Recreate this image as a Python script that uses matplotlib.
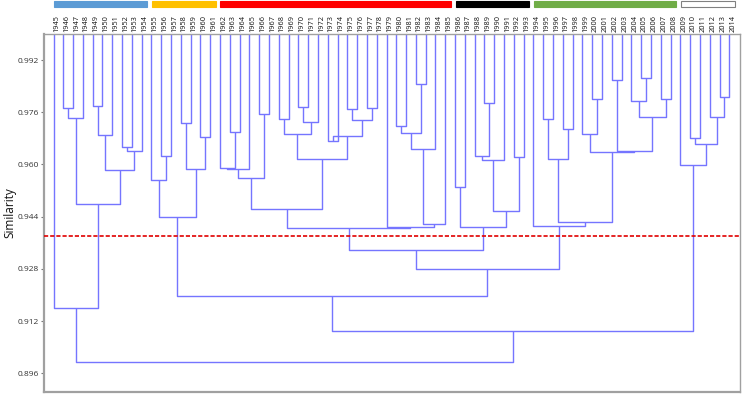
import matplotlib
matplotlib.use("Agg")
import matplotlib.pyplot as plt
import matplotlib.transforms as mtransforms
from matplotlib.patches import Rectangle

plt.rcParams['font.family'] = ['Open Sans', 'DejaVu Sans']

# leaves of the dendrogram, drawn in this order
years = list(range(1945, 2015))

# linkage rows: a value >= 1945 is a leaf (year), a smaller value is an earlier row
link_a = [1946, 0, 1949, 2, 1952, 4, 3, 1, 1945,
          1956, 1955, 1958, 1960, 11, 10,
          1963, 1962, 16, 1966, 17, 1968, 1970, 21, 20, 1973, 1975, 1977, 25, 24, 23, 19,
          1980, 1982, 31, 33, 34, 1979, 30,
          1986, 1989, 1988, 40, 1992, 41, 38, 37,
          1995, 1997, 46, 2000, 1999, 2002, 2005, 2004, 2007, 53, 51, 50, 48, 1994,
          45, 14,
          2010, 2013, 2012, 62, 2009, 61, 8]
link_b = [1947, 1948, 1950, 1951, 1953, 1954, 5, 6, 7,
          1957, 9, 1959, 1961, 12, 13,
          1964, 15, 1965, 1967, 18, 1969, 1971, 1972, 22, 1974, 1976, 1978, 26, 27, 28, 29,
          1981, 1983, 32, 1984, 1985, 35, 36,
          1987, 1990, 39, 1991, 1993, 42, 43, 44,
          1996, 1998, 47, 2001, 49, 2003, 2006, 52, 2008, 54, 55, 56, 57, 58,
          59, 60,
          2011, 2014, 63, 64, 65, 66, 67]
link_h = [0.9773, 0.9741, 0.9778, 0.9689, 0.9654, 0.9641, 0.9583, 0.9479, 0.9160,
          0.9627, 0.9552, 0.9728, 0.9685, 0.9586, 0.9438,
          0.9699, 0.9588, 0.9587, 0.9756, 0.9559, 0.9739, 0.9775, 0.9731, 0.9693,
          0.9673, 0.9770, 0.9774, 0.9736, 0.9687, 0.9618, 0.9463,
          0.9719, 0.9846, 0.9697, 0.9646, 0.9418, 0.9407, 0.9406,
          0.9530, 0.9787, 0.9627, 0.9614, 0.9622, 0.9457, 0.9407, 0.9338,
          0.9738, 0.9708, 0.9616, 0.9801, 0.9693, 0.9859, 0.9866, 0.9794, 0.9801,
          0.9744, 0.9640, 0.9639, 0.9425, 0.9410,
          0.9280, 0.9198,
          0.9680, 0.9808, 0.9746, 0.9663, 0.9598, 0.9090, 0.8996]

leaf_sim = 1.0
cut_level = 0.9382

# period bars above the labels
group_first = [1945, 1955, 1962, 1986, 1994, 2009]
group_last = [1954, 1961, 1985, 1993, 2008, 2014]
group_colors = ['#5b9bd5', '#ffc000', '#ff0000', '#000000', '#70ad47', '#ffffff']

yticks = [0.896, 0.912, 0.928, 0.944, 0.960, 0.976, 0.992]

line_col = '#7575ff'

fig = plt.figure(figsize=(7.43, 3.96), dpi=100)
ax = fig.add_axes([44 / 743, 3.7 / 396, 695.5 / 743, 358.4 / 396])


def draw(node):
    if node >= 1945:
        return years.index(node), leaf_sim
    xa, ha = draw(link_a[node])
    xb, hb = draw(link_b[node])
    h = link_h[node]
    ax.plot([xa, xa, xb, xb], [ha, h, h, hb], color=line_col, lw=1.0,
            solid_capstyle='butt', zorder=2)
    return (xa + xb) / 2, h


draw(len(link_h) - 1)

ax.axhline(cut_level, color='#e00000', lw=1.2, ls=(0, (2.5, 1.2)), zorder=3)

ax.set_xlim(-0.97, 70.04)
ax.set_ylim(0.8902, 1.0)
ax.set_xticks([])
ax.set_yticks(yticks)
ax.set_yticklabels(['%.3f' % t for t in yticks], fontsize=6, color='#333333')
ax.tick_params(axis='y', length=2.5, width=0.8, color='#777777', pad=1)
for s in ax.spines.values():
    s.set_color('#a0a0a0')
    s.set_linewidth(1.0)
ax.spines['left'].set_linewidth(1.6)
ax.spines['bottom'].set_linewidth(1.6)

ax.set_ylabel('Similarity', fontsize=8.5, color='#111111')
ax.yaxis.set_label_coords(-0.040, 0.5)

trans = mtransforms.blended_transform_factory(ax.transData, ax.transAxes)
for i, yr in enumerate(years):
    ax.text(i + 0.35, 1.006, str(yr), rotation=90, ha='center', va='bottom',
            fontsize=5.3, color='#111111', transform=trans, clip_on=False)

for first, last, col in zip(group_first, group_last, group_colors):
    x0 = years.index(first) + 0.05
    x1 = years.index(last) + 0.57
    ax.add_patch(Rectangle((x0, 1.074), x1 - x0, 0.017, transform=trans,
                           facecolor=col, edgecolor='#808080' if col == '#ffffff' else col,
                           lw=0.8, clip_on=False))

fig.savefig('out.png', dpi=100)
